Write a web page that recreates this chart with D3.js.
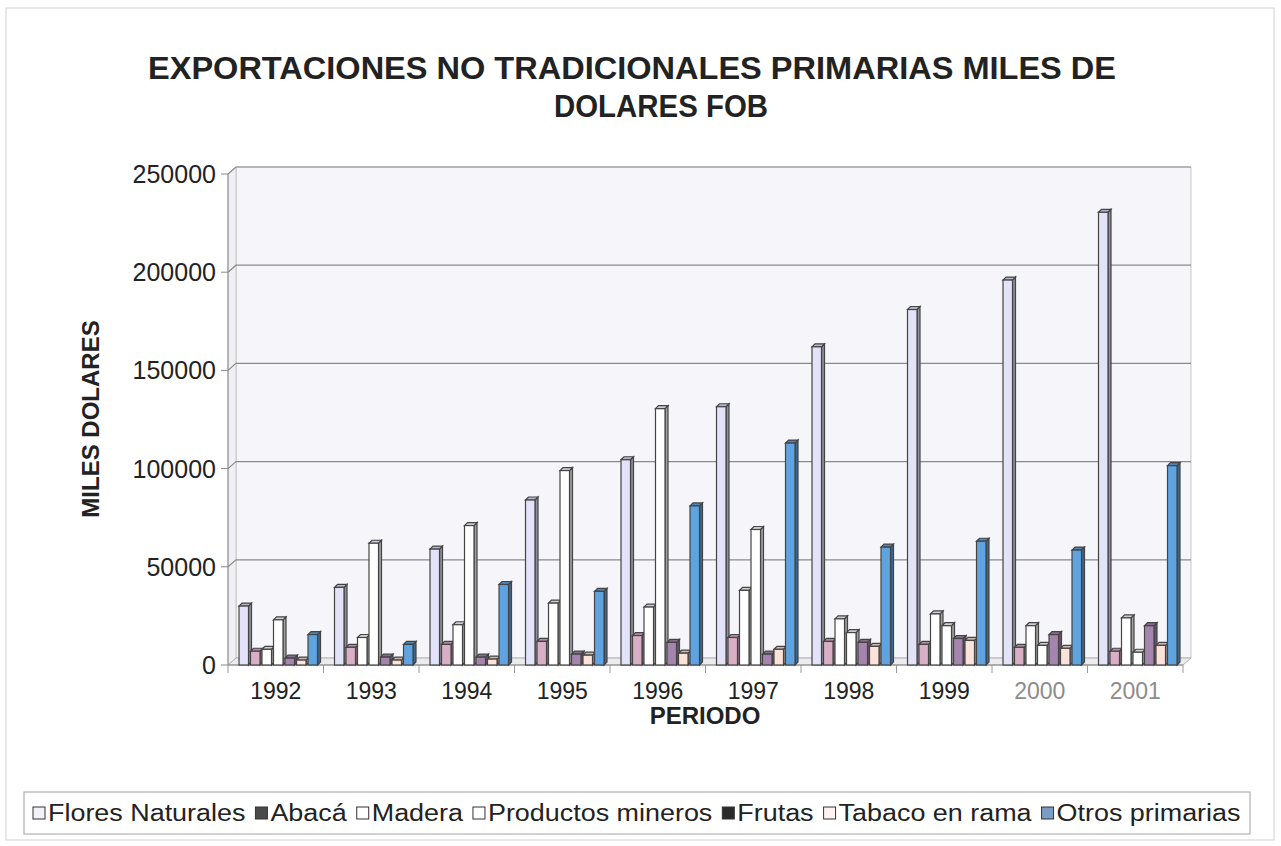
<!DOCTYPE html>
<html>
<head>
<meta charset="utf-8">
<script src="https://cdn.jsdelivr.net/npm/d3@7"></script>
<style>
    body { margin: 0; background: #fff; }
    text { font-family: "Liberation Sans", Arial, sans-serif; fill: #222; }
    .title { font-weight: bold; font-size: 31px; }
    .axis-title { font-weight: bold; font-size: 24px; }
    .tick-label { font-size: 25px; }
    .year-label { font-size: 23px; }
    .legend-label { font-size: 23px; }
</style>
</head>
<body>
<div id="chart"></div>
<script>
// Data
const YEARS = ["1992", "1993", "1994", "1995", "1996", "1997", "1998", "1999", "2000", "2001"];
const SERIES = ["Flores Naturales", "Abacá", "Madera", "Productos mineros", "Frutas", "Tabaco en rama", "Otros primarias"];
const FLORES = [30000, 39500, 59000, 84000, 104500, 131500, 162000, 181000, 196000, 230500];
const ABACA = [7000, 9000, 10500, 12000, 15000, 14000, 12000, 10500, 9000, 7000];
const MADERA = [8000, 14000, 20500, 31500, 29500, 38000, 23500, 26000, 20000, 24000];
const MINEROS = [23000, 62000, 71000, 99000, 130500, 69000, 16500, 20000, 10000, 6500];
const FRUTAS = [3500, 4000, 4000, 5500, 11500, 5500, 11500, 13500, 15500, 20000];
const TABACO = [2500, 2500, 3000, 5000, 6000, 8000, 9500, 12500, 8500, 10000];
const OTROS = [15500, 10500, 41000, 37500, 81000, 113000, 60000, 63000, 58500, 101500];
const Y_TICKS = [0, 50000, 100000, 150000, 200000, 250000];

const VALUES = [FLORES, ABACA, MADERA, MINEROS, FRUTAS, TABACO, OTROS];
const BAR_COLORS = ["#e2e2f8", "#d9afc6", "#ffffff", "#ffffff", "#a584ae", "#fce3da", "#5fa3e0"];
const SWATCH_COLORS = ["#f2f2f8", "#4a4a4a", "#ffffff", "#ffffff", "#2a2a2a", "#fff2f0", "#7b9cc4"];

const width = 1281;
const height = 846;
const depth = { x: 8, y: 7 };    // offset of the back wall
const barDepth = 3;              // 3D offset of each column

let svg = d3.select("#chart")
    .append("svg")
    .attr("width", width)
    .attr("height", height);

// Outer border
svg.append("rect")
    .attr("x", 6).attr("y", 8)
    .attr("width", 1268).attr("height", 832)
    .attr("fill", "#fff")
    .attr("stroke", "#d0d0d0");

// Title
svg.append("text")
    .attr("class", "title")
    .attr("x", 632).attr("y", 79)
    .attr("text-anchor", "middle")
    .attr("textLength", 968)
    .attr("lengthAdjust", "spacingAndGlyphs")
    .text("EXPORTACIONES NO TRADICIONALES  PRIMARIAS MILES DE");
svg.append("text")
    .attr("class", "title")
    .attr("x", 661).attr("y", 117)
    .attr("text-anchor", "middle")
    .attr("textLength", 214)
    .attr("lengthAdjust", "spacingAndGlyphs")
    .text("DOLARES FOB");

const xScale = d3.scaleBand()
    .domain(YEARS)
    .range([228, 1183]);

const seriesScale = d3.scaleBand()
    .domain(SERIES)
    .range([11, 91.5]);

const yScale = d3.scaleLinear()
    .domain([0, 250000])
    .range([665, 174]);

const x0 = xScale.range()[0];
const x1 = xScale.range()[1];
const y0 = yScale(0);
const yTop = yScale(250000);

// Walls and floor
const wallGroup = svg.append("g").attr("class", "walls");
wallGroup.append("path")
    .attr("d", `M${x0 + depth.x},${yTop - depth.y} H${x1 + depth.x} V${y0 - depth.y} H${x0 + depth.x} Z`)
    .attr("fill", "#f6f6fa")
    .attr("stroke", "#c8c8c8");
wallGroup.append("path")
    .attr("d", `M${x0},${y0} L${x0 + depth.x},${y0 - depth.y} V${yTop - depth.y} L${x0},${yTop} Z`)
    .attr("fill", "#f0f0f4")
    .attr("stroke", "#c8c8c8");
wallGroup.append("path")
    .attr("d", `M${x0},${y0} L${x0 + depth.x},${y0 - depth.y} H${x1 + depth.x} L${x1},${y0} Z`)
    .attr("fill", "#ececf0")
    .attr("stroke", "#b0b0b0");

// Gridlines on the back wall
const gridGroup = svg.append("g").attr("class", "grid");
gridGroup.selectAll(".grid-line")
    .data(Y_TICKS.slice(1))
  .enter().append("path")
    .attr("class", "grid-line")
    .attr("d", d => `M${x0},${yScale(d)} L${x0 + depth.x},${yScale(d) - depth.y} H${x1 + depth.x}`)
    .attr("fill", "none")
    .attr("stroke", "#8a8a8a")
    .attr("stroke-width", 1.2);

// Y axis
const yAxis = svg.append("g").attr("class", "y axis");
yAxis.append("line")
    .attr("x1", x0).attr("x2", x0)
    .attr("y1", yTop).attr("y2", y0)
    .attr("stroke", "#888");
yAxis.selectAll(".tick")
    .data(Y_TICKS)
  .enter().append("line")
    .attr("class", "tick")
    .attr("x1", x0 - 7).attr("x2", x0)
    .attr("y1", d => yScale(d)).attr("y2", d => yScale(d))
    .attr("stroke", "#888");
yAxis.selectAll(".tick-label")
    .data(Y_TICKS)
  .enter().append("text")
    .attr("class", "tick-label")
    .attr("x", 216)
    .attr("y", d => yScale(d))
    .attr("dy", "0.36em")
    .attr("text-anchor", "end")
    .text(d => d);

svg.append("text")
    .attr("class", "axis-title")
    .attr("transform", "translate(99, 419) rotate(-90)")
    .attr("text-anchor", "middle")
    .text("MILES DOLARES");

// X axis
const xAxis = svg.append("g").attr("class", "x axis");
xAxis.append("line")
    .attr("x1", x0).attr("x2", x1)
    .attr("y1", y0).attr("y2", y0)
    .attr("stroke", "#888");
xAxis.selectAll(".tick")
    .data(YEARS.concat(["end"]))
  .enter().append("line")
    .attr("class", "tick")
    .attr("x1", (d, i) => x0 + i * xScale.bandwidth())
    .attr("x2", (d, i) => x0 + i * xScale.bandwidth())
    .attr("y1", y0).attr("y2", y0 + 8)
    .attr("stroke", "#999");
xAxis.selectAll(".year-label")
    .data(YEARS)
  .enter().append("text")
    .attr("class", "year-label")
    .attr("x", d => xScale(d) + xScale.bandwidth() / 2)
    .attr("y", 699)
    .attr("text-anchor", "middle")
    .style("fill", d => +d >= 2000 ? "#8c8c8c" : "#222")
    .text(d => d);

svg.append("text")
    .attr("class", "axis-title")
    .attr("x", 705).attr("y", 724)
    .attr("text-anchor", "middle")
    .text("PERIODO");

// Create 3D columns
const frontWidth = seriesScale.bandwidth() - 2;
const barData = [];
YEARS.forEach((year, i) => {
    SERIES.forEach((name, j) => {
        barData.push({ year: year, series: name, value: VALUES[j][i], color: BAR_COLORS[j] });
    });
});

const barGroup = svg.append("g").attr("class", "bars");
const bars = barGroup.selectAll(".bar")
    .data(barData)
  .enter().append("g")
    .attr("class", "bar")
    .attr("transform", d => `translate(${xScale(d.year) + seriesScale(d.series)}, 0)`);

bars.append("path")
    .attr("d", d => {
        const top = yScale(d.value);
        return `M${frontWidth},${y0} L${frontWidth + barDepth},${y0 - barDepth} V${top - barDepth} L${frontWidth},${top} Z`;
    })
    .attr("fill", d => d3.color(d.color).darker(1.3))
    .attr("stroke", "#444")
    .attr("stroke-width", 1.2);

bars.append("path")
    .attr("d", d => {
        const top = yScale(d.value);
        return `M0,${top} L${barDepth},${top - barDepth} H${frontWidth + barDepth} L${frontWidth},${top} Z`;
    })
    .attr("fill", d => d3.color(d.color).darker(0.6))
    .attr("stroke", "#444")
    .attr("stroke-width", 1.2);

bars.append("rect")
    .attr("x", 0)
    .attr("y", d => yScale(d.value))
    .attr("width", frontWidth)
    .attr("height", d => y0 - yScale(d.value))
    .attr("fill", d => d.color)
    .attr("stroke", "#444")
    .attr("stroke-width", 1.2);

// Legend
const legendGroup = svg.append("g").attr("class", "legend");
legendGroup.append("rect")
    .attr("x", 24).attr("y", 792)
    .attr("width", 1226).attr("height", 42)
    .attr("fill", "#fff")
    .attr("stroke", "#a0a0a0");

let legendX = 33;
SERIES.forEach((name, j) => {
    legendGroup.append("rect")
        .attr("x", legendX).attr("y", 807)
        .attr("width", 12).attr("height", 12)
        .attr("fill", SWATCH_COLORS[j])
        .attr("stroke", "#333");
    const label = legendGroup.append("text")
        .attr("class", "legend-label")
        .attr("x", legendX + 15)
        .attr("y", 821)
        .text(name);
    const stretched = label.node().getComputedTextLength() * 1.17;
    label.attr("textLength", stretched)
        .attr("lengthAdjust", "spacingAndGlyphs");
    legendX += 15 + stretched + 10;
});
</script>
</body>
</html>
